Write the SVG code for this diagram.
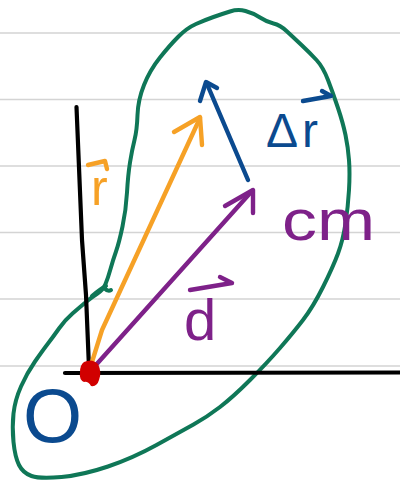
<svg xmlns="http://www.w3.org/2000/svg" width="400" height="482" viewBox="0 0 400 482">
<defs>
<style>
.rule{stroke:#d4d4d4;stroke-width:1.3;fill:none}
.ink{fill:none;stroke-linecap:round;stroke-linejoin:round}
.green{stroke:#0f7757;stroke-width:4}
.black{stroke:#000;stroke-width:4.2}
.orange{stroke:#f6a126;stroke-width:4.4}
.blue{stroke:#0b4a8f;stroke-width:4.4}
.purple{stroke:#7e2189;stroke-width:4.4}
.lbl{font-family:"Liberation Sans",Arial,sans-serif}
</style>
</defs>
<rect width="400" height="482" fill="#fff"/>
<g id="ruled-lines">
<path class="rule" d="M0,33H400M0,99.5H400M0,166H400M0,232.5H400M0,299H400M0,366H400"/>
</g>
<g id="body">
<path class="ink green" d="M230,11.5 Q238,9 245.5,11 Q253,13 260,17.5 Q267,22 273.5,23.5 Q280,25 286.5,31 Q293,37 301.5,45 Q310,53 316.5,60 Q323,67 328,80 Q333,93 338,108 Q343,123 345.5,135 Q348,147 349,160 Q350,173 349,190 Q348,207 345.5,223.5 Q343,240 338,253.5 Q333,267 323,287 Q313,307 303,320 Q293,333 280,348 Q267,363 250,380 Q233,397 220,407 Q207,417 193.5,424.5 Q180,432 156.5,445 Q133,458 108,466.5 Q83,475 61.5,477 Q40,479 31.5,476 Q23,473 19,465 Q15,457 13.5,442 Q12,427 13.5,413.5 Q15,400 21,386.5 Q27,373 35,361.5 Q43,350 48,343.5 Q53,337 59,328.5 Q65,320 72.5,313.5 Q80,307 86,302 Q92,297 97.5,293.5 Q103,290 105.5,284 Q108,278 110.5,269 Q113,260 116,251.5 Q119,243 122.5,226.5 Q126,210 127,192.5 Q128,175 130,162.5 Q132,150 134.5,140 Q137,130 137.5,115 Q138,100 144,85 Q150,70 160,57.5 Q170,45 178.5,36.5 Q187,28 196,24 Q205,20 213.5,17 Q222,14 230,11.5 Z"/>
<path class="ink green" d="M92,296 Q100,289 106,286 M104,288 Q108,292 111,290"/>
</g>
<g id="axes">
<path class="ink black" d="M76.5,107 L82,240 L86,295 L89,368"/>
<path class="ink black" d="M65,373 L400,372.5"/>
</g>
<g id="connectors">
<g id="vector-r">
<path class="ink orange" d="M92,362 L102,330 L200,118"/>
<path class="ink orange" d="M174,132 L200,117 L202,145"/>
</g>
<g id="vector-d">
<path class="ink purple" d="M95,366 L252,191"/>
<path class="ink purple" d="M225,206 L253,190 L253,213"/>
</g>
<g id="vector-delta-r">
<path class="ink blue" d="M248,180 L207,84"/>
<path class="ink blue" d="M200,101 L206,82 L217,88"/>
</g>
</g>
<g id="origin-point">
<path fill="#d10000" d="M84,362 Q92,358 98,364 Q102,372 99,380 Q97,387 91,386 Q88,381 84,382 Q79,380 80,372 Q80,365 84,362 Z"/>
</g>
<g id="label-r">
<path class="ink orange" d="M88,165 L105,161 L107,169"/>
<text class="lbl" x="91" y="205" font-size="50" fill="#f6a126">r</text>
</g>
<g id="label-delta-r">
<path class="ink blue" d="M303,101 L331,96 M322,91 L331,96"/>
<text class="lbl" x="266" y="147" font-size="48" letter-spacing="4" fill="#0b4a8f">Δr</text>
</g>
<g id="label-cm">
<text class="lbl" x="282" y="240" font-size="58" textLength="93" lengthAdjust="spacingAndGlyphs" fill="#7e2189">cm</text>
</g>
<g id="label-d">
<path class="ink purple" d="M190,290 L232,283 M220,277 L232,283"/>
<text class="lbl" x="184" y="340" font-size="58" fill="#7e2189">d</text>
</g>
<g id="label-O">
<text class="lbl" x="23" y="442" font-size="76" fill="#0b4a8f">O</text>
</g>
</svg>
